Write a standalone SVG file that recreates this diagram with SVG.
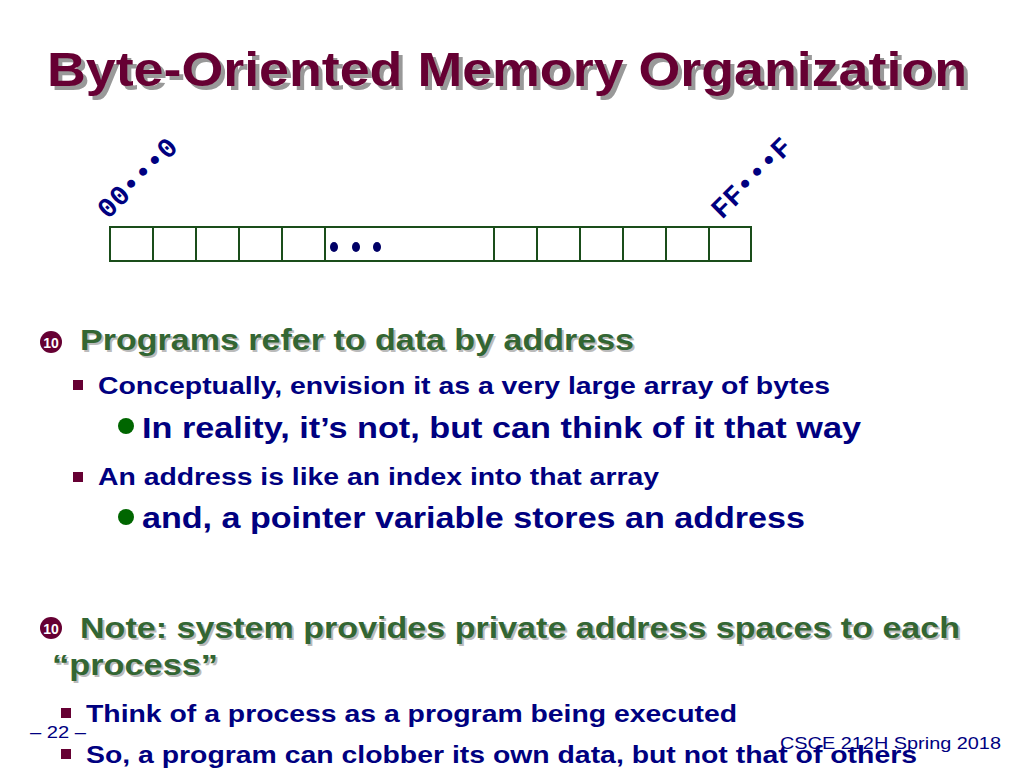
<svg xmlns="http://www.w3.org/2000/svg" width="1024" height="768" viewBox="0 0 1024 768">
<style>
.t{font-family:"Liberation Sans",Arial,sans-serif;font-weight:bold}
.title{font-size:48px;fill:#660033}
.sh{fill:#999}
.h{font-size:29px;fill:#336633}
.hs{font-size:29px;fill:#bbb}
.b{font-size:24px;fill:#000080}
.c{font-size:29px;fill:#000080}
.m{font-family:"Liberation Mono","Courier New",monospace;font-weight:bold;font-size:28px;fill:#000080}
.cell{fill:#fff;stroke:#1a4d1a;stroke-width:2}
.foot{font-family:"Liberation Sans",Arial,sans-serif;font-size:17px;fill:#000080}
</style>
<rect width="1024" height="768" fill="#fff"/>
<g id="title">
<text class="t title sh" x="51" y="90" textLength="920" lengthAdjust="spacingAndGlyphs">Byte-Oriented Memory Organization</text>
<text class="t title" x="47" y="86" textLength="920" lengthAdjust="spacingAndGlyphs">Byte-Oriented Memory Organization</text>
</g>
<g id="memory">
<rect class="cell" x="110" y="227" width="641" height="34"/>
<g stroke="#1a4d1a" stroke-width="2">
<line x1="153" y1="227" x2="153" y2="261"/><line x1="196" y1="227" x2="196" y2="261"/>
<line x1="239" y1="227" x2="239" y2="261"/><line x1="282" y1="227" x2="282" y2="261"/>
<line x1="325" y1="227" x2="325" y2="261"/><line x1="494" y1="227" x2="494" y2="261"/>
<line x1="537" y1="227" x2="537" y2="261"/><line x1="580" y1="227" x2="580" y2="261"/>
<line x1="623" y1="227" x2="623" y2="261"/><line x1="666" y1="227" x2="666" y2="261"/>
<line x1="709" y1="227" x2="709" y2="261"/>
</g>
<g fill="#000066"><ellipse cx="334" cy="247" rx="4" ry="5"/><ellipse cx="356" cy="247" rx="4" ry="5"/><ellipse cx="377" cy="247" rx="4" ry="5"/></g>
<text class="m" transform="translate(108,220) rotate(-45)">00•••0</text>
<text class="m" transform="translate(722,220) rotate(-45)">FF•••F</text>
</g>
<g id="text">
<circle cx="51" cy="342" r="11" fill="#660033"/><text x="51" y="348" font-family="Liberation Sans,sans-serif" font-size="14" font-weight="bold" fill="#fff" text-anchor="middle">10</text>
<text class="t hs" x="82" y="352" textLength="554" lengthAdjust="spacingAndGlyphs">Programs refer to data by address</text>
<text class="t h" x="80" y="350" textLength="554" lengthAdjust="spacingAndGlyphs">Programs refer to data by address</text>
<rect x="73" y="380" width="10" height="10" fill="#660033"/>
<text class="t b" x="98" y="394" textLength="732" lengthAdjust="spacingAndGlyphs">Conceptually, envision it as a very large array of bytes</text>
<circle cx="126" cy="426" r="8" fill="#006600"/>
<text class="t c" x="142" y="438" textLength="719" lengthAdjust="spacingAndGlyphs">In reality, it’s not, but can think of it that way</text>
<rect x="73" y="472" width="10" height="10" fill="#660033"/>
<text class="t b" x="98" y="485" textLength="561" lengthAdjust="spacingAndGlyphs">An address is like an index into that array</text>
<circle cx="126" cy="517" r="8" fill="#006600"/>
<text class="t c" x="142" y="528" textLength="663" lengthAdjust="spacingAndGlyphs">and, a pointer variable stores an address</text>
<circle cx="51" cy="628" r="11" fill="#660033"/><text x="51" y="634" font-family="Liberation Sans,sans-serif" font-size="14" font-weight="bold" fill="#fff" text-anchor="middle">10</text>
<text class="t hs" x="82" y="640" textLength="880" lengthAdjust="spacingAndGlyphs">Note: system provides private address spaces to each</text>
<text class="t h" x="80" y="638" textLength="880" lengthAdjust="spacingAndGlyphs">Note: system provides private address spaces to each</text>
<text class="t hs" x="54" y="677" textLength="166" lengthAdjust="spacingAndGlyphs">“process”</text>
<text class="t h" x="52" y="675" textLength="166" lengthAdjust="spacingAndGlyphs">“process”</text>
<rect x="61" y="708" width="10" height="10" fill="#660033"/>
<text class="t b" x="86" y="722" textLength="651" lengthAdjust="spacingAndGlyphs">Think of a process as a program being executed</text>
<rect x="61" y="749" width="10" height="10" fill="#660033"/>
<text class="t b" x="86" y="763" textLength="831" lengthAdjust="spacingAndGlyphs">So, a program can clobber its own data, but not that of others</text>
<text class="foot" x="30" y="738" textLength="56" lengthAdjust="spacingAndGlyphs">– 22 –</text>
<text class="foot" x="780" y="749" textLength="221" lengthAdjust="spacingAndGlyphs">CSCE 212H Spring 2018</text>
</g>
</svg>
